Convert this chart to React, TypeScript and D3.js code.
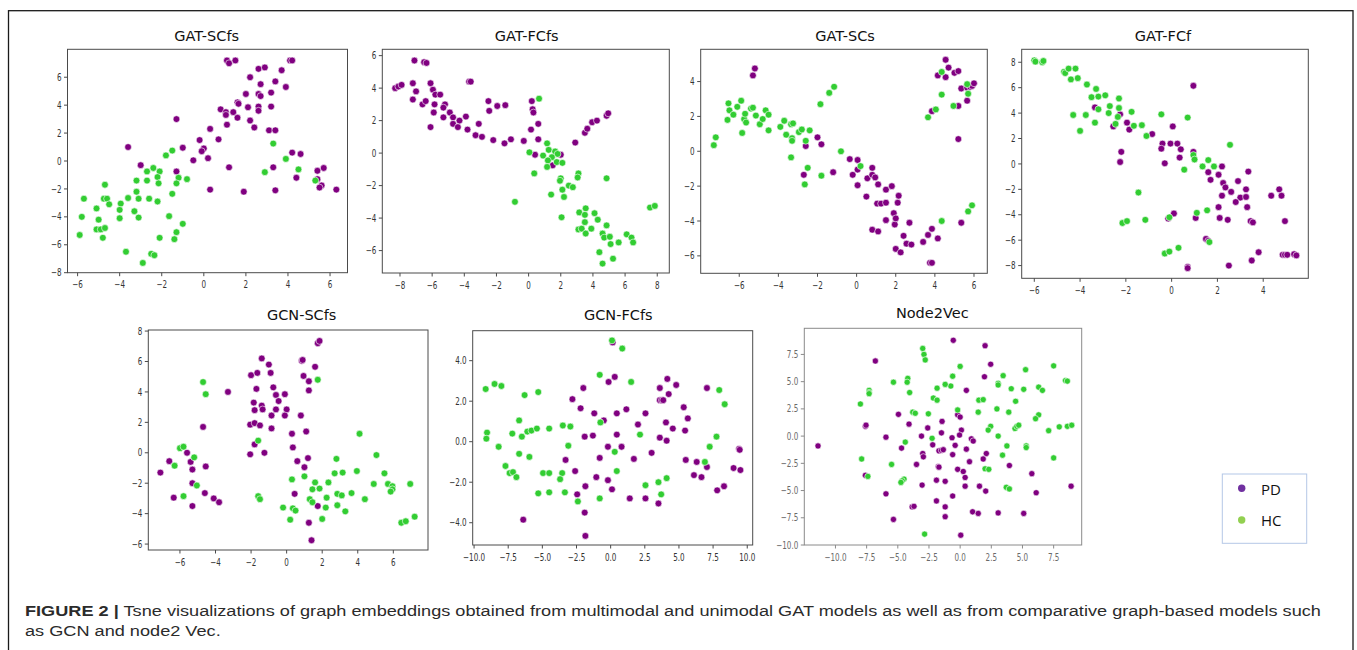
import React, { useLayoutEffect, useRef, useState } from 'react';
import * as d3 from 'd3';

type Pt = [number, number];

// ---- data (t-SNE coordinates) ----
const gatSCfsPD: Pt[] = [[1.1,7.2],[1.2,7.0],[1.5,7.2],[4.1,7.2],[4.2,7.2],[2.6,6.6],[2.9,6.7],[3.7,6.5],[2.2,6.0],[3.4,5.7],[2.7,5.5],[3.9,5.3],[2.0,4.8],[2.6,4.8],[2.7,4.65],[3.2,4.9],[1.6,4.2],[1.65,4.1],[2.1,3.85],[2.6,3.9],[2.6,3.6],[3.2,3.9],[0.8,3.7],[1.05,3.5],[1.05,3.3],[1.4,3.5],[1.6,3.1],[-1.3,3.0],[2.2,2.9],[2.4,2.4],[1.1,2.6],[0.3,2.3],[3.1,2.2],[3.4,2.2],[0.7,1.55],[-0.2,1.5],[-3.6,1.0],[-1.0,0.95],[0.0,0.9],[-0.1,0.7],[-0.5,0.05],[0.2,0.2],[4.2,0.6],[4.6,0.5],[-3.0,-0.3],[1.2,-0.45],[3.3,-0.45],[5.7,-0.5],[5.4,-0.7],[-1.3,-0.75],[4.4,-1.2],[5.4,-1.3],[5.6,-1.75],[5.5,-1.9],[0.3,-2.05],[1.9,-2.2],[3.4,-2.1],[6.3,-2.05]];
const gatSCfsHC: Pt[] = [[3.3,1.25],[3.9,0.15],[-1.5,0.75],[-1.8,0.4],[-2.4,-0.5],[-2.7,-0.75],[-2.1,-0.75],[4.5,-0.6],[2.9,-0.8],[-2.2,-1.15],[-1.2,-1.2],[-0.8,-1.3],[-3.2,-1.4],[-2.7,-1.4],[-1.3,-1.6],[-2.15,-1.6],[5.3,-1.4],[-4.7,-1.7],[-3.2,-2.2],[-1.5,-2.35],[-5.7,-2.7],[-4.75,-2.7],[-4.6,-2.7],[-3.6,-2.65],[-3.1,-2.7],[-2.6,-2.7],[-2.2,-2.9],[-4.5,-3.1],[-3.95,-3.05],[-5.1,-3.4],[-4.0,-3.5],[-3.3,-3.6],[-5.8,-4.0],[-4.0,-4.1],[-3.1,-4.05],[-1.65,-3.95],[-5.0,-4.2],[-1.0,-4.5],[-5.1,-4.9],[-4.9,-4.9],[-4.7,-4.8],[-5.9,-5.3],[-1.3,-5.1],[-4.8,-5.5],[-2.1,-5.5],[-1.4,-5.6],[-3.7,-6.5],[-2.5,-6.65],[-2.35,-6.75],[-2.9,-7.3]];

const gatFCfsPD: Pt[] = [[-8.3,4.0],[-8.1,4.1],[-7.9,4.2],[-7.1,5.7],[-6.5,5.6],[-6.35,5.55],[-7.2,4.3],[-7.0,3.8],[-7.2,3.3],[-6.6,3.0],[-6.4,3.2],[-6.1,4.3],[-5.95,3.9],[-5.8,3.6],[-5.5,3.6],[-5.85,3.0],[-5.9,2.5],[-6.1,1.6],[-5.2,3.0],[-5.3,2.8],[-4.9,2.5],[-5.3,2.2],[-4.7,2.2],[-4.3,2.0],[-4.7,1.8],[-4.4,1.6],[-3.9,2.25],[-3.8,1.45],[-3.7,4.4],[-3.6,4.4],[-3.1,1.8],[-3.3,1.1],[-2.9,1.0],[-2.5,3.2],[-2.45,2.6],[-2.2,0.8],[-1.95,2.9],[-1.45,2.95],[-1.5,0.6],[-1.1,0.85],[-0.3,0.75],[0.2,3.2],[0.25,2.7],[0.3,2.5],[0.15,1.45],[0.6,1.8],[0.6,0.85],[0.4,-0.1],[1.5,-0.75],[2.0,-0.1],[2.9,0.65],[3.5,1.25],[3.65,1.5],[3.95,1.9],[4.25,2.0],[4.85,2.3],[4.95,2.45]];
const gatFCfsHC: Pt[] = [[0.65,3.35],[0.05,0.05],[1.15,0.6],[1.25,0.2],[0.9,-0.15],[1.65,0.1],[1.8,-0.05],[1.45,-0.25],[1.2,-0.45],[1.15,-0.85],[1.75,-0.55],[2.1,-0.6],[0.35,-1.25],[2.0,-1.55],[1.95,-1.7],[3.1,-1.25],[3.05,-1.5],[4.85,-1.55],[2.5,-2.0],[2.75,-2.1],[2.1,-2.25],[1.4,-2.55],[2.2,-2.7],[-0.85,-3.0],[2.05,-3.95],[3.15,-3.65],[3.55,-3.4],[3.5,-3.8],[4.1,-3.7],[4.3,-4.1],[3.5,-4.25],[4.85,-4.45],[3.1,-4.7],[3.3,-4.65],[3.55,-4.95],[3.9,-4.65],[4.6,-4.95],[4.7,-5.2],[5.05,-5.15],[5.1,-5.6],[5.6,-5.5],[6.1,-5.0],[6.4,-5.2],[6.5,-5.5],[4.4,-6.1],[5.25,-6.5],[4.6,-6.8],[7.55,-3.35],[7.85,-3.25]];

const gatSCsPD: Pt[] = [[-5.2,4.75],[-5.3,4.35],[-2.0,0.8],[-2.6,0.3],[-1.8,0.4],[-2.7,-1.35],[-1.2,-1.2],[-0.35,-0.45],[-0.2,-1.35],[0.05,-0.5],[0.05,-1.05],[0.05,-1.95],[0.5,-2.6],[0.55,-1.55],[0.8,-0.95],[0.8,-1.35],[0.95,-1.5],[1.05,-3.0],[1.1,-1.9],[1.25,-3.0],[1.5,-2.2],[1.5,-2.95],[1.5,-3.95],[1.8,-2.0],[1.9,-3.55],[1.95,-4.2],[2.0,-3.85],[2.1,-2.95],[2.15,-2.55],[0.8,-4.5],[1.1,-4.6],[2.4,-4.85],[2.0,-5.6],[2.25,-5.8],[2.55,-5.3],[2.7,-4.1],[2.8,-5.35],[3.4,-5.2],[3.65,-4.8],[3.85,-4.45],[3.75,-6.4],[3.85,-6.4],[4.15,-5.0],[5.35,-4.1],[3.85,2.3],[4.15,4.35],[4.55,5.25],[4.55,4.25],[4.7,4.8],[5.0,4.5],[5.2,4.6],[5.35,3.6],[5.2,2.6],[5.2,0.7],[5.65,2.9],[5.65,3.65],[5.8,3.7],[5.9,3.75],[6.0,3.9]];
const gatSCsHC: Pt[] = [[-7.3,0.35],[-7.2,0.8],[-6.6,1.8],[-6.55,2.75],[-6.5,2.35],[-6.3,2.1],[-6.1,2.55],[-5.9,2.9],[-5.85,1.05],[-5.75,1.85],[-5.7,2.15],[-5.65,1.65],[-5.4,2.45],[-5.3,2.5],[-5.15,2.05],[-4.95,1.55],[-4.8,1.85],[-4.65,2.35],[-4.5,2.1],[-4.5,1.2],[-3.9,1.4],[-3.7,1.75],[-3.6,0.95],[-3.35,1.55],[-3.25,1.6],[-3.3,0.75],[-3.3,0.6],[-3.35,-0.35],[-2.95,1.1],[-2.8,1.25],[-2.4,1.2],[-2.6,0.6],[-2.5,-0.95],[-2.65,-1.9],[-1.85,2.7],[-1.4,3.35],[-1.15,3.7],[-1.8,-1.4],[-0.8,0.0],[0.2,-0.85],[3.65,1.95],[4.05,2.4],[4.35,3.25],[4.35,4.55],[4.95,2.6],[5.65,3.85],[5.7,3.3],[4.35,-4.0],[5.7,-3.45],[5.9,-3.1]];

const gatFCfPD: Pt[] = [[0.95,6.15],[-3.35,4.45],[-2.25,3.9],[-2.55,2.95],[-1.95,3.25],[-1.85,2.7],[-0.85,2.35],[-2.2,0.95],[-2.25,0.15],[0.05,2.95],[-0.4,1.6],[-0.45,1.2],[-0.05,1.6],[0.25,1.6],[0.4,1.15],[0.35,0.5],[-0.3,0.05],[0.95,0.95],[1.6,-0.65],[1.7,-1.25],[2.2,-0.2],[2.05,-0.85],[2.25,-1.5],[2.35,-1.85],[2.2,-2.5],[2.6,-2.2],[2.9,-1.35],[3.35,-0.6],[3.25,-2.0],[3.0,-2.65],[2.8,-3.0],[3.25,-2.6],[3.3,-3.4],[2.05,-3.4],[2.1,-4.25],[2.45,-4.4],[3.45,-4.5],[3.55,-4.6],[4.35,-2.5],[4.7,-2.0],[4.8,-2.5],[4.95,-4.5],[1.05,-4.25],[0.1,-3.9],[-0.15,-4.3],[1.5,-5.9],[1.6,-6.05],[3.8,-6.95],[3.5,-7.6],[4.85,-7.15],[4.95,-7.15],[5.05,-7.15],[5.35,-7.1],[5.45,-7.2],[0.7,-8.1],[0.7,-8.2],[2.5,-8.0]];
const gatFCfHC: Pt[] = [[-6.0,8.15],[-5.95,8.05],[-5.65,8.0],[-5.6,8.1],[-4.7,7.25],[-4.65,7.15],[-4.5,7.5],[-4.2,7.5],[-4.4,6.65],[-4.1,6.75],[-3.7,6.25],[-3.5,5.25],[-3.3,5.9],[-3.2,5.3],[-2.9,5.4],[-2.3,5.15],[-2.7,4.55],[-2.3,4.4],[-3.2,4.3],[-2.75,4.0],[-4.3,3.85],[-3.75,3.85],[-3.35,3.25],[-2.45,3.15],[-2.35,3.7],[-1.75,4.1],[-1.65,3.0],[-1.3,3.05],[-4.0,2.6],[-1.1,2.2],[-0.45,3.9],[0.7,3.65],[2.55,1.5],[0.95,0.7],[1.0,0.35],[1.35,-0.2],[1.6,0.3],[1.85,-0.2],[0.55,-0.45],[-1.45,-2.25],[-2.15,-4.65],[-1.95,-4.5],[-1.15,-4.4],[-0.1,-4.2],[1.1,-3.85],[1.55,-3.65],[1.65,-6.15],[-0.3,-7.05],[-0.1,-6.9],[0.3,-6.6]];

const gcnSCfsPD: Pt[] = [[1.75,7.2],[1.85,7.35],[-1.4,6.2],[-1.0,5.8],[0.85,6.05],[0.9,6.1],[1.6,5.65],[-2.0,5.1],[-1.65,5.25],[-0.9,5.25],[0.95,5.05],[1.25,4.7],[1.25,4.1],[-1.7,4.2],[-0.75,4.3],[-3.3,4.0],[-0.6,3.8],[-0.1,3.85],[-0.45,3.4],[-1.85,3.3],[-1.4,3.1],[-1.35,2.85],[-1.8,2.8],[-0.6,2.85],[0.0,2.85],[-0.85,2.45],[-0.1,2.45],[0.8,2.45],[-2.05,1.85],[-1.8,1.95],[-1.5,1.8],[-0.85,1.6],[1.1,1.4],[-4.7,1.7],[0.3,1.25],[-1.8,0.55],[0.35,0.35],[-2.05,-0.1],[-1.25,0.0],[-5.6,0.0],[1.2,-0.35],[0.6,-0.55],[1.0,-0.95],[-6.6,-0.55],[-5.4,-0.6],[-4.55,-0.9],[-5.3,-1.1],[-7.1,-1.3],[-5.3,-2.0],[-4.6,-2.65],[0.45,-2.7],[-6.35,-2.95],[-4.1,-3.0],[-3.8,-3.25],[-5.3,-3.5],[1.75,-3.5],[1.25,-4.6],[1.4,-5.75]];
const gcnSCfsHC: Pt[] = [[1.75,4.8],[-4.7,4.65],[-4.55,3.85],[4.1,1.25],[-1.6,0.8],[-6.0,0.3],[-5.8,0.4],[-5.2,-0.3],[-6.3,-0.85],[5.05,-0.15],[2.8,-0.4],[2.7,-1.35],[3.15,-1.3],[3.95,-1.2],[5.5,-1.35],[1.0,-1.55],[0.3,-1.75],[1.6,-1.95],[2.35,-1.95],[4.9,-2.05],[5.7,-2.05],[5.95,-2.2],[6.95,-2.05],[5.95,-2.4],[5.85,-2.55],[-5.05,-2.15],[1.45,-2.4],[1.85,-2.35],[2.85,-2.7],[3.1,-2.8],[3.65,-2.65],[-5.8,-2.85],[-1.6,-2.85],[-1.5,-3.05],[1.3,-3.05],[1.45,-3.25],[2.25,-2.95],[4.4,-3.05],[2.85,-3.45],[-0.2,-3.6],[0.35,-3.65],[0.5,-3.8],[2.2,-3.6],[3.3,-3.85],[0.2,-4.4],[2.0,-4.35],[6.45,-4.6],[6.7,-4.5],[7.2,-4.2]];

const gcnFCfsPD: Pt[] = [[0.15,4.9],[-0.15,2.95],[0.3,3.2],[-2.0,2.65],[-2.8,2.1],[-2.2,1.65],[-1.2,1.4],[-0.5,1.05],[0.45,1.4],[1.15,1.6],[-1.9,0.25],[-1.3,0.3],[0.45,0.35],[-0.2,-0.25],[0.8,-0.25],[-0.8,-0.8],[-3.3,-0.9],[-2.6,-1.45],[-1.05,-1.75],[-0.2,-1.9],[0.1,-2.35],[-1.85,-2.2],[-2.45,-2.6],[-1.9,-3.5],[-1.85,-4.65],[-6.4,-3.85],[1.4,-2.8],[2.55,-2.8],[3.5,-3.05],[1.7,-0.85],[2.0,0.85],[2.55,1.4],[3.0,-0.55],[3.6,2.65],[3.6,2.05],[3.75,2.05],[3.85,2.05],[4.15,3.1],[4.25,2.35],[4.8,2.8],[3.6,0.2],[4.05,0.95],[4.1,0.05],[4.55,0.65],[5.35,1.7],[5.65,1.15],[5.45,0.55],[5.5,-0.9],[6.1,-1.65],[6.3,-1.0],[6.65,-1.75],[7.05,2.65],[7.05,-1.25],[7.8,-2.4],[8.3,-2.2],[9.0,-1.3],[9.4,-0.35],[9.45,-0.4],[9.5,-1.4]];
const gcnFCfsHC: Pt[] = [[0.1,5.0],[0.85,4.6],[-0.8,3.3],[1.5,2.95],[-9.15,2.6],[-8.5,2.85],[-8.0,2.75],[-6.3,2.3],[-5.3,2.45],[-9.05,0.45],[-9.1,0.15],[-8.2,-0.25],[-6.7,1.05],[-7.2,0.4],[-6.5,0.25],[-6.1,0.5],[-5.8,0.55],[-5.4,0.65],[-4.5,0.65],[-3.5,0.8],[-2.95,0.75],[-3.1,-0.2],[-6.7,-0.6],[-5.95,-0.75],[-7.7,-1.2],[-7.4,-1.55],[-7.15,-1.5],[-6.9,-1.75],[-4.95,-1.55],[-4.5,-1.55],[-3.55,-1.55],[-3.7,-1.85],[-5.3,-2.55],[-4.5,-2.5],[-3.35,-2.5],[-2.4,-2.95],[-0.75,0.95],[0.3,-0.5],[0.45,-1.45],[-0.8,-2.8],[2.15,0.35],[2.55,-2.15],[3.5,-2.0],[3.7,-2.6],[4.1,-1.8],[6.9,-1.0],[7.25,-0.25],[7.75,0.25],[7.95,2.55],[8.35,1.85]];

const node2VecPD: Pt[] = [[-11.4,-0.9],[-0.55,8.8],[2.0,8.3],[-6.8,6.9],[2.45,6.6],[1.95,5.45],[0.5,4.2],[-4.95,2.0],[-0.2,1.95],[0.0,1.75],[-7.6,0.9],[-7.55,1.0],[-4.1,1.1],[-1.45,1.35],[-2.6,0.75],[-5.95,-0.1],[-3.1,0.0],[-1.5,0.3],[0.1,0.55],[-0.05,0.1],[-0.65,-0.15],[0.9,-0.25],[1.05,-0.45],[-2.2,-0.8],[-0.4,-0.85],[-4.7,-1.1],[-1.7,-1.35],[-1.5,-1.3],[-1.35,-1.25],[0.5,-1.2],[-3.0,-1.6],[-2.95,-1.9],[-0.6,-1.7],[2.1,-1.6],[1.85,-2.1],[0.75,-2.35],[-3.5,-2.6],[-1.75,-2.8],[-1.7,-2.85],[-0.2,-3.05],[0.25,-3.25],[3.95,-2.7],[-7.6,-3.6],[0.4,-3.8],[5.75,-3.45],[-1.9,-4.05],[-1.2,-4.15],[-3.05,-4.5],[0.4,-4.6],[1.55,-4.6],[2.05,-5.05],[-5.95,-5.3],[-0.6,-5.5],[-1.9,-5.95],[6.1,-5.2],[8.9,-4.6],[-3.85,-6.5],[-3.7,-6.45],[-1.2,-6.5],[-1.2,-7.4],[1.0,-6.95],[1.45,-7.1],[3.05,-7.05],[5.1,-7.1],[-5.35,-7.65],[0.05,-9.1]];
const node2VecHC: Pt[] = [[-3.0,8.05],[-2.9,7.5],[-2.8,7.0],[0.0,6.4],[-0.6,5.5],[-0.75,4.6],[-1.2,4.75],[-4.2,5.3],[-4.25,4.95],[-5.35,4.95],[-7.3,4.2],[-7.3,4.0],[-7.3,3.9],[-4.05,4.0],[-1.85,4.4],[-2.15,3.5],[-1.85,3.3],[-8.0,2.95],[-3.8,2.2],[-3.6,2.1],[-2.55,2.05],[-0.2,2.4],[-2.25,-0.2],[-4.4,-0.55],[3.45,5.55],[5.25,6.1],[7.5,6.45],[3.05,4.85],[3.05,4.7],[4.1,4.35],[5.1,4.3],[6.3,4.5],[6.6,4.2],[8.45,5.1],[8.6,5.05],[1.5,3.3],[1.85,3.35],[4.45,3.2],[2.95,2.5],[1.45,2.2],[3.9,2.2],[6.3,1.95],[6.05,1.6],[2.45,0.9],[2.25,0.55],[4.4,0.7],[4.55,0.9],[4.7,1.0],[8.6,0.9],[8.95,1.0],[7.95,0.85],[7.1,0.5],[3.05,0.0],[3.75,-0.9],[5.3,-0.9],[5.3,-1.05],[3.4,-1.75],[7.5,-2.0],[-7.9,-2.1],[-5.5,-2.6],[2.0,-3.0],[2.3,-3.05],[-7.4,-3.7],[-4.5,-3.95],[-4.65,-4.1],[-4.75,-4.25],[3.7,-4.7],[3.95,-4.85],[-2.85,-9.0]];

// ---- titles and tick values ----
const panelTitles = ['GAT-SCfs', 'GAT-FCfs', 'GAT-SCs', 'GAT-FCf', 'GCN-SCfs', 'GCN-FCfs', 'Node2Vec'];
const xTickSets: number[][] = [
  [-6, -4, -2, 0, 2, 4, 6],
  [-8, -6, -4, -2, 0, 2, 4, 6, 8],
  [-6, -4, -2, 0, 2, 4, 6],
  [-6, -4, -2, 0, 2, 4],
  [-6, -4, -2, 0, 2, 4, 6],
  [-10, -7.5, -5, -2.5, 0, 2.5, 5, 7.5, 10],
  [-10, -7.5, -5, -2.5, 0, 2.5, 5, 7.5],
];
const yTickSets: number[][] = [
  [-8, -6, -4, -2, 0, 2, 4, 6],
  [-6, -4, -2, 0, 2, 4, 6],
  [-6, -4, -2, 0, 2, 4],
  [-8, -6, -4, -2, 0, 2, 4, 6, 8],
  [-6, -4, -2, 0, 2, 4, 6, 8],
  [-4, -2, 0, 2, 4],
  [-10, -7.5, -5, -2.5, 0, 2.5, 5, 7.5],
];
const legendLabels = ['PD', 'HC'];
const captionBold = 'FIGURE 2 |';
const captionLine1 = ' Tsne visualizations of graph embeddings obtained from multimodal and unimodal GAT models as well as from comparative graph-based models such';
const captionLine2 = 'as GCN and node2 Vec.';

const seriesPD = [gatSCfsPD, gatFCfsPD, gatSCsPD, gatFCfPD, gcnSCfsPD, gcnFCfsPD, node2VecPD];
const seriesHC = [gatSCfsHC, gatFCfsHC, gatSCsHC, gatFCfHC, gcnSCfsHC, gcnFCfsHC, node2VecHC];

// ---- layout (page pixels) ----
const layout = [
  { l: 67.5, r: 347.5, t: 49.3, b: 272.7, xd: [-6.48, 6.83], yd: [-8.0, 8.0], tx: 206.7, ty: 40.7, fmt: 'd' },
  { l: 382.3, r: 669.3, t: 49.3, b: 273, xd: [-9.1, 8.75], yd: [-7.38, 6.39], tx: 526.7, ty: 40.7, fmt: 'd' },
  { l: 700.7, r: 987.3, t: 49.3, b: 273.3, xd: [-7.97, 6.68], yd: [-7.0, 5.85], tx: 845, ty: 40.7, fmt: 'd' },
  { l: 1021.7, r: 1308.3, t: 49.3, b: 278.3, xd: [-6.55, 5.97], yd: [-9.0, 9.02], tx: 1163, ty: 40.7, fmt: 'd' },
  { l: 148.3, r: 428, t: 330, b: 550, xd: [-7.78, 7.95], yd: [-6.39, 8.07], tx: 301.7, ty: 320, fmt: 'd' },
  { l: 472.7, r: 752.7, t: 330.7, b: 545, xd: [-10.1, 10.4], yd: [-5.1, 5.48], tx: 618.3, ty: 320, fmt: '.1f' },
  { l: 804.3, r: 1081.7, t: 328.3, b: 545, xd: [-12.5, 9.75], yd: [-10.0, 9.9], tx: 932.3, ty: 317.7, fmt: '.1f', light: true },
];

const PURPLE = '#800080';
const GREEN = '#32cd32';
const tickFont = 'DejaVu Sans, sans-serif';
const capFont = 'Liberation Sans, Arial, sans-serif';
const CAP_WIDTH = 1297;

function Panel({ i }: { i: number }) {
  const p = layout[i];
  const x = d3.scaleLinear().domain(p.xd).range([p.l, p.r]);
  const y = d3.scaleLinear().domain(p.yd).range([p.b, p.t]);
  const fmt = d3.format(p.fmt);
  const axisCol = p.light ? '#8a8a8a' : '#4a4a4a';
  const labCol = p.light ? '#6a6a6a' : '#333';
  const rad = p.light ? 3.1 : 3.4;
  return (
    <g>
      <text x={p.tx} y={p.ty} textAnchor="middle" fontFamily="DejaVu Sans, sans-serif" fontSize={14.5} fill="#111">
        {panelTitles[i]}
      </text>
      {seriesPD[i].map((d, k) => (
        <circle key={'p' + k} cx={x(d[0])} cy={y(d[1])} r={rad} fill={PURPLE} stroke="#fff" strokeWidth={0.6} />
      ))}
      {seriesHC[i].map((d, k) => (
        <circle key={'h' + k} cx={x(d[0])} cy={y(d[1])} r={rad} fill={GREEN} stroke="#fff" strokeWidth={0.6} />
      ))}
      <rect x={p.l} y={p.t} width={p.r - p.l} height={p.b - p.t} fill="none" stroke={axisCol} strokeWidth={1} />
      {xTickSets[i].map(t => (
        <g key={'x' + t}>
          <line x1={x(t)} x2={x(t)} y1={p.b} y2={p.b + 3.5} stroke={axisCol} />
          <text transform={`translate(${x(t)},${p.b + 15.5}) scale(0.72,1)`} textAnchor="middle"
            fontFamily={tickFont} fontSize={10} fill={labCol}>{fmt(t)}</text>
        </g>
      ))}
      {yTickSets[i].map(t => (
        <g key={'y' + t}>
          <line x1={p.l - 3.5} x2={p.l} y1={y(t)} y2={y(t)} stroke={axisCol} />
          <text transform={`translate(${p.l - 6},${y(t) + 3.6}) scale(0.72,1)`} textAnchor="end"
            fontFamily={tickFont} fontSize={10} fill={labCol}>{fmt(t)}</text>
        </g>
      ))}
    </g>
  );
}

export default function App() {
  const legendColors = ['#7030a0', '#92d050'];
  const line1Ref = useRef<SVGTextElement>(null);
  const [sx, setSx] = useState(1);

  // both caption lines share one horizontal scale, chosen so the first line ends at the right margin
  useLayoutEffect(() => {
    const el = line1Ref.current;
    if (!el) return;
    const natural = el.getComputedTextLength();
    if (natural > 0) setSx(CAP_WIDTH / natural);
  }, []);

  return (
    <svg width={1357} height={650} style={{ position: 'absolute', left: 0, top: 0, background: '#fff' }}>
      <rect x={0} y={0} width={1357} height={650} fill="#fff" />
      <rect x={8.5} y={10.7} width={1344.5} height={700} fill="none" stroke="#1a1a1a" strokeWidth={1.3} />
      {layout.map((_, i) => <Panel key={i} i={i} />)}
      <rect x={1222.3} y={474} width={84.4} height={69.3} fill="#fff" stroke="#b4c7e7" strokeWidth={1} />
      {legendLabels.map((lab, k) => (
        <g key={lab}>
          <circle cx={1241.7} cy={488.3 + k * 31.7} r={3.7} fill={legendColors[k]} />
          <text x={1261} y={494.5 + k * 31.7} fontFamily="Open Sans, sans-serif" fontSize={15} fill="#111">{lab}</text>
        </g>
      ))}
      <text ref={line1Ref} transform={`translate(25,615.7) scale(${sx},1)`} fontFamily={capFont}
        fontSize={15} fill="#2b2b2b">
        <tspan fontWeight="bold">{captionBold}</tspan>
        <tspan>{captionLine1}</tspan>
      </text>
      <text transform={`translate(25,636) scale(${sx},1)`} fontFamily={capFont} fontSize={15}
        fill="#2b2b2b">{captionLine2}</text>
    </svg>
  );
}
